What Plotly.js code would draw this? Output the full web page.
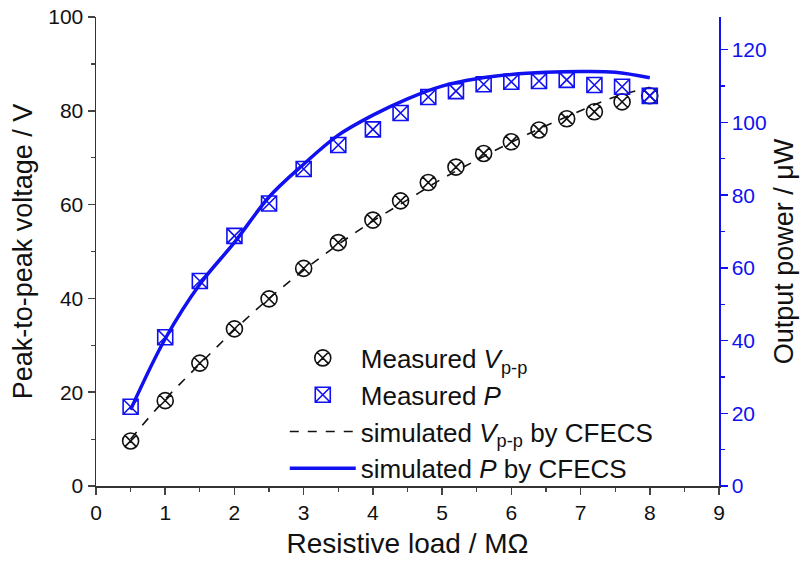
<!DOCTYPE html>
<html>
<head>
<meta charset="utf-8">
<script src="https://cdn.plot.ly/plotly-3.0.1.min.js"></script>
<style>html,body{margin:0;padding:0;background:#fff;}#chart{width:806px;height:561px;}</style>
</head>
<body>
<div id="chart"></div>
<script>
// Measured data
const loadMeasured = [0.5, 1.0, 1.5, 2.0, 2.5, 3.0, 3.5, 4.0, 4.4, 4.8, 5.2, 5.6, 6.0, 6.4, 6.8, 7.2, 7.6, 8.0];
const vppMeasured  = [9.6, 18.2, 26.2, 33.5, 39.9, 46.4, 51.9, 56.7, 60.8, 64.7, 68.0, 70.9, 73.4, 75.9, 78.3, 79.8, 81.9, 83.2];
const powMeasured  = [21.8, 40.9, 56.4, 68.8, 77.7, 87.2, 93.8, 98.1, 102.6, 107.0, 108.6, 110.5, 111.2, 111.4, 111.7, 110.3, 109.8, 107.3];
// Simulated (CFECS)
const loadSim = [0.5, 1.0, 1.5, 2.0, 2.5, 3.0, 3.5, 4.0, 4.5, 5.0, 5.5, 6.0, 6.5, 7.0, 7.5, 8.0];
const vppSim  = [10.0, 18.5, 26.0, 33.3, 40.0, 46.0, 51.5, 56.5, 61.0, 65.5, 69.5, 73.3, 76.8, 80.0, 83.0, 85.0];
const powSim  = [21.0, 40.5, 55.5, 67.0, 79.5, 88.5, 96.5, 102.0, 106.5, 110.0, 112.0, 113.2, 113.8, 114.0, 113.8, 112.3];

const BLUE = '#1010f0';
const FONT = 'Liberation Sans, Arial, sans-serif';

const traces = [
  {x: loadMeasured, y: vppMeasured, name: 'Measured <i>V</i><sub>p-p</sub>', type: 'scatter', mode: 'markers', legendgroup: 'a',
   marker: {symbol: 'circle-x-open', size: 16, color: '#111', line: {width: 1.6, color: '#111'}}, yaxis: 'y'},
  {x: loadMeasured, y: powMeasured, name: 'Measured <i>P</i>', type: 'scatter', mode: 'markers', legendgroup: 'b',
   marker: {symbol: 'square-x-open', size: 15, color: BLUE, line: {width: 1.6, color: BLUE}}, yaxis: 'y2'},
  {x: loadSim, y: vppSim, name: 'simulated <i>V</i><sub>p-p</sub> by CFECS', type: 'scatter', mode: 'lines', legendgroup: 'c',
   line: {color: '#111', width: 1.6, dash: 'dash', shape: 'spline'}, yaxis: 'y'},
  {x: loadSim, y: powSim, name: 'simulated <i>P</i> by CFECS', type: 'scatter', mode: 'lines', legendgroup: 'd',
   line: {color: BLUE, width: 3.5, shape: 'spline'}, yaxis: 'y2'}
];

const layout = {
  width: 806, height: 561,
  margin: {l: 96, r: 87, t: 17, b: 75},
  paper_bgcolor: '#fff', plot_bgcolor: '#fff',
  font: {family: FONT, size: 20, color: '#111'},
  showlegend: true,
  legend: {x: 0.303, y: 0.323, xanchor: 'left', yanchor: 'top', bgcolor: 'rgba(0,0,0,0)',
           font: {size: 26, family: FONT, color: '#111'}, itemwidth: 66, tracegroupgap: 0},
  xaxis: {range: [0, 9], dtick: 1, tick0: 0, ticks: 'outside', ticklen: 7, tickwidth: 1.5,
          minor: {dtick: 0.5, ticks: 'outside', ticklen: 4, tickwidth: 1.2},
          showline: true, linecolor: '#333', linewidth: 1.5, showgrid: false, zeroline: false,
          tickfont: {size: 21, family: FONT},
          title: {text: 'Resistive load / MΩ', font: {size: 28, family: FONT}, standoff: 10}},
  xaxis2: {range: [0, 9], overlaying: 'x', side: 'top', anchor: 'y', matches: 'x', dtick: 1,
           ticks: 'inside', ticklen: 6, tickwidth: 1.5, showticklabels: false,
           minor: {dtick: 0.5, ticks: 'inside', ticklen: 4, tickwidth: 1.2},
           showline: true, linecolor: '#333', linewidth: 1.5, showgrid: false, zeroline: false},
  yaxis: {range: [0, 100], dtick: 20, ticks: 'outside', ticklen: 7, tickwidth: 1.5,
          minor: {dtick: 10, ticks: 'outside', ticklen: 4, tickwidth: 1.2},
          showline: true, linecolor: '#333', linewidth: 1.5, showgrid: false, zeroline: false,
          tickfont: {size: 21, family: FONT},
          title: {text: 'Peak-to-peak voltage / V', font: {size: 27, family: FONT}, standoff: 8}},
  yaxis2: {range: [0, 129], dtick: 20, overlaying: 'y', side: 'right', ticks: 'outside', ticklen: 7, tickwidth: 1.5,
           minor: {dtick: 10, ticks: 'outside', ticklen: 4, tickwidth: 1.2},
           showline: true, linecolor: BLUE, linewidth: 1.5, showgrid: false, zeroline: false,
           tickcolor: BLUE, tickfont: {size: 21, family: FONT, color: BLUE},
           title: {text: 'Output power / μW', font: {size: 27, family: FONT, color: '#111'}, standoff: 8}}
};

Plotly.newPlot('chart', traces, layout, {displayModeBar: false, staticPlot: true});
</script>
</body>
</html>
